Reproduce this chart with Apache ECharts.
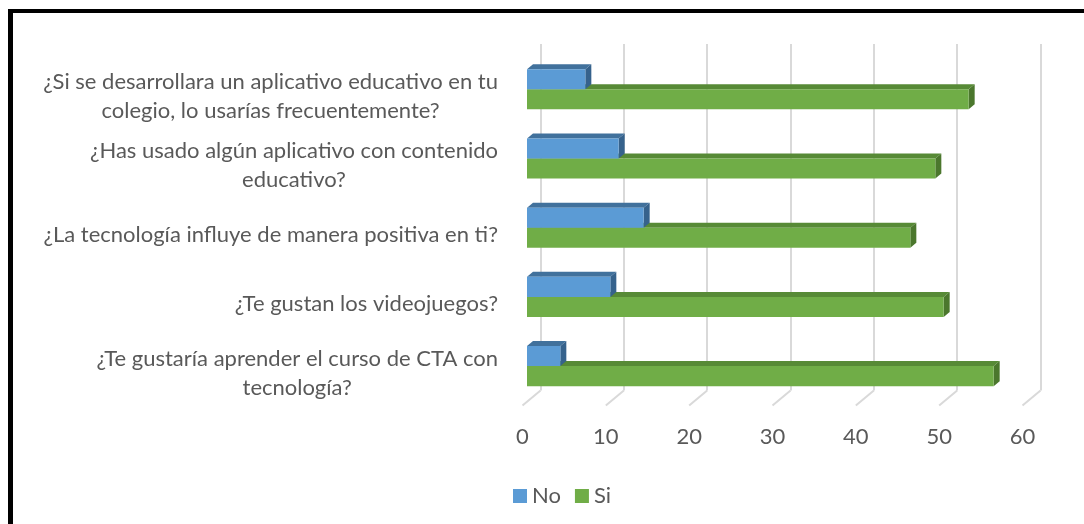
<!DOCTYPE html>
<html>
<head>
<meta charset="utf-8">
<script src="https://cdn.jsdelivr.net/npm/echarts@6.0.0/dist/echarts.min.js"></script>
<style>
html, body { margin: 0; padding: 0; background: #fff; }
#chart { width: 1084px; height: 524px; }
.frame {
  position: absolute; left: 8px; top: 9px; width: 1076px; height: 515px;
  border-top: 4px solid #000; border-left: 5px solid #000;
  box-sizing: border-box; pointer-events: none;
}
</style>
</head>
<body>
<div id="chart"></div>
<div class="frame"></div>
<script>
// preguntas, de arriba hacia abajo
const categories = [
  "¿Si se desarrollara un aplicativo educativo en tu\ncolegio, lo usarías frecuentemente?",
  "¿Has usado algún aplicativo con contenido\neducativo?",
  "¿La tecnología influye de manera positiva en ti?",
  "¿Te gustan los videojuegos?",
  "¿Te gustaría aprender el curso de CTA con\ntecnología?"
];
const noValues = [7, 11, 14, 10, 4];
const siValues = [53, 49, 46, 50, 56];
const xTicks = [0, 10, 20, 30, 40, 50, 60];

const FONT = "Lato";
const depthX = 6, depthY = -5;

// barra con cara superior y lateral (efecto 3D)
function bar3d(colors, upper) {
  return function (params, api) {
    const i = api.value(1);
    const start = api.coord([0, i]);
    const end = api.coord([api.value(0), i]);
    const h = api.size([0, 1])[1] * 0.29;
    const y0 = upper ? start[1] - h : start[1];
    const y1 = y0 + h;
    const x0 = start[0], x1 = end[0];
    return {
      type: "group",
      children: [
        { type: "polygon", shape: { points: [[x0, y0], [x1, y0], [x1 + depthX, y0 + depthY], [x0 + depthX, y0 + depthY]] }, style: { fill: colors[1] } },
        { type: "polygon", shape: { points: [[x1, y0], [x1, y1], [x1 + depthX, y1 + depthY], [x1 + depthX, y0 + depthY]] }, style: { fill: colors[2] } },
        { type: "rect", shape: { x: x0, y: y0, width: x1 - x0, height: h }, style: { fill: colors[0] } }
      ]
    };
  };
}

const myChart = echarts.init(document.getElementById("chart"));
myChart.setOption({
  animation: false,
  textStyle: { fontFamily: FONT },
  legend: {
    data: ["No", "Si"],
    left: 508,
    top: 480,
    icon: "rect",
    itemWidth: 14,
    itemHeight: 14,
    itemGap: 14,
    textStyle: { fontSize: 22, color: "#595959", fontFamily: FONT }
  },
  grid: [
    { left: 527, right: 57, top: 54.7, bottom: 123.3 },
    { left: 540.5, right: 43.5, top: 44, bottom: 133.5 }
  ],
  xAxis: [
    {
      gridIndex: 0,
      type: "value",
      min: 0,
      max: 60,
      interval: 10,
      splitLine: { show: false },
      axisLine: { show: false },
      axisTick: { show: false },
      axisLabel: { margin: 25, fontSize: 22, color: "#595959", padding: [0, 9, 0, 0] }
    },
    {
      gridIndex: 1,
      type: "value",
      min: 0,
      max: 60,
      interval: 10,
      axisLine: { show: false },
      axisTick: { show: false },
      axisLabel: { show: false },
      splitLine: { show: true, lineStyle: { color: "#d9d9d9", width: 2 } }
    }
  ],
  yAxis: [
    {
      gridIndex: 0,
      type: "category",
      data: categories,
      inverse: true,
      axisLine: { show: false },
      axisTick: { show: false },
      axisLabel: {
        margin: 29,
        padding: [14, 0, 0, 0],
        formatter: function (v) {
          return v.split("\n").map(function (l) { return "{c|" + l + "}"; }).join("\n");
        },
        rich: {
          c: { align: "center", fontSize: 22, lineHeight: 29, color: "#595959", fontFamily: FONT }
        }
      }
    },
    { gridIndex: 1, type: "value", min: 0, max: 1, show: false }
  ],
  series: [
    {
      name: "floor",
      type: "custom",
      xAxisIndex: 1,
      yAxisIndex: 1,
      silent: true,
      data: xTicks.map(function (t) { return [t, 0]; }),
      renderItem: function (params, api) {
        const p = api.coord([api.value(0), 0]);
        return {
          type: "line",
          shape: { x1: p[0], y1: p[1], x2: p[0] - 18, y2: p[1] + 15 },
          style: { stroke: "#d9d9d9", lineWidth: 2 }
        };
      }
    },
    {
      name: "Si",
      type: "custom",
      itemStyle: { color: "#70ad47" },
      encode: { x: 0, y: 1 },
      data: siValues.map(function (v, i) { return [v, i]; }),
      renderItem: bar3d(["#70ad47", "#578a36", "#4b772d"], false),
      z: 3
    },
    {
      name: "No",
      type: "custom",
      itemStyle: { color: "#5b9bd5" },
      encode: { x: 0, y: 1 },
      data: noValues.map(function (v, i) { return [v, i]; }),
      renderItem: bar3d(["#5b9bd5", "#41719c", "#36628c"], true),
      z: 4
    }
  ]
});
</script>
</body>
</html>
